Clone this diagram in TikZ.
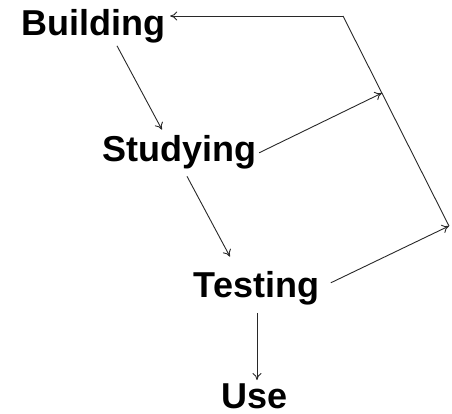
\documentclass[tikz,border=0pt]{standalone}
\usepackage{fontspec}
\setmainfont{Liberation Sans}
\usetikzlibrary{calc,arrows.meta}

\begin{document}
\begin{tikzpicture}[x=1pt,y=1pt,yscale=-1,xscale=1,
  stage/.style={font=\fontsize{36}{42}\selectfont\bfseries, inner sep=2pt, anchor=base},
  flow/.style={-{To[length=7pt,width=9pt]}, line width=0.9pt, color={rgb,255:red,40;green,40;blue,40}},
  loopline/.style={line width=0.9pt, color={rgb,255:red,40;green,40;blue,40}}]
\useasboundingbox (0,0) rectangle (452,414);

% Text Node
\node[stage] (build) at (93,36) {Building};
% Text Node
\node[stage] (study) at (179,162) {Studying};
% Text Node
\node[stage] (test) at (256.5,297) {Testing};
% Text Node
\node[stage] (use) at (255,408) {Use};

% corners of the feedback line
\coordinate (looptop) at (343,16);
\coordinate (loopbot) at (449,226);
\coordinate (loopmid) at ($(looptop)!0.367!(loopbot)$);

%Straight Lines
\draw[flow] ($(build.south)+(24,0)$) -- ($(study.north)+(-17,-4)$);
%Straight Lines
\draw[flow] ($(study.south)+(8,4.5)$) -- ($(test.north)+(-26.5,-12)$);
%Straight Lines
\draw[flow] ($(test.south)+(0.5,6)$) -- ($(use.north)+(2,-1)$);
%Straight Lines
\draw[flow] ($(study.east)+(1,0)$) -- (loopmid);
%Straight Lines
\draw[flow] ($(test.east)+(9.5,-5)$) -- (loopbot);
%Straight Lines
\draw[loopline] (loopbot) -- (looptop);
\draw[flow] (looptop) -- ($(looptop -| build.east)+(3,0)$);

\end{tikzpicture}
\end{document}
